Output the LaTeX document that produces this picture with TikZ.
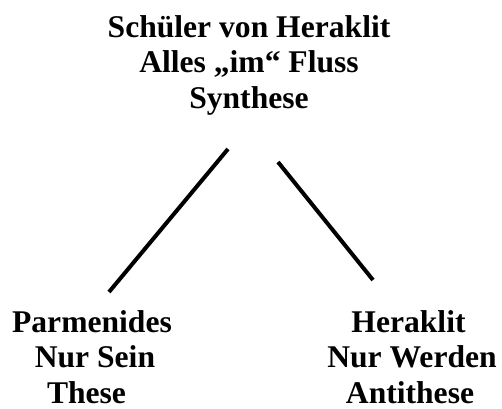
\documentclass[tikz,border=0pt]{standalone}
\usepackage{fontspec}
\setmainfont{Liberation Serif}
\begin{document}
\begin{tikzpicture}[x=1pt,y=-1pt,
  lbl/.style={align=center,inner sep=0pt,font=\fontsize{31.6}{35.5}\selectfont\bfseries},
  conn/.style={line width=4pt}]
\useasboundingbox (0,0) rectangle (502,408);
\node[lbl] (syn) at (249,65) {Schüler von Heraklit\\Alles „im“ Fluss\\Synthese};
\node[lbl] (the) at (92,357) {Parmenides\\\hspace*{6pt}Nur Sein\\\hspace*{-11pt}These};
\node[lbl] (anti) at (412,357) {\hspace*{-7pt}Heraklit\\Nur Werden\\\hspace*{-4pt}Antithese};
\coordinate (l1) at (228,149);
\coordinate (l2) at (109,292);
\coordinate (r1) at (278,162);
\coordinate (r2) at (373,280);
\draw[conn] (l1) -- (l2);
\draw[conn] (r1) -- (r2);
\end{tikzpicture}
\end{document}
